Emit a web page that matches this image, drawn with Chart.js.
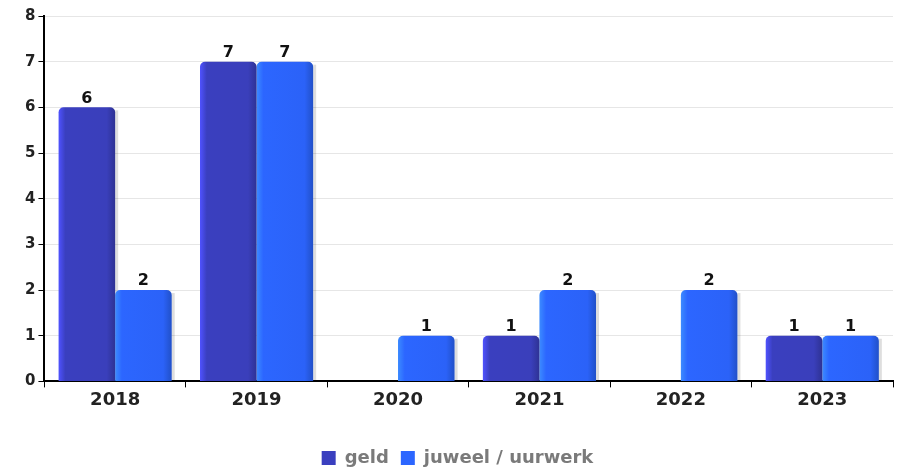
<!DOCTYPE html>
<html><head><meta charset="utf-8">
<script src="https://cdn.jsdelivr.net/npm/chart.js@4/dist/chart.umd.min.js"></script>
<style>html,body{margin:0;padding:0;background:#fff}#w{width:901px;height:468px}</style>
</head><body><div id="w"><canvas id="c"></canvas></div>
<script>
const categories = ['2018','2019','2020','2021','2022','2023'];
const geld = [6,7,0,1,0,1];
const juweel = [2,7,1,2,2,1];
const seriesNames = ['geld','juweel / uurwerk'];
const yTicks = [0,1,2,3,4,5,6,7,8];

const shades = [
  ['#4f52ff','#3a3fbf','#3a3fbb','#2e3294'],
  ['#3c8bff','#2c66ff','#2b62f8','#2150c8']
];
const gradPlugin = {
  id:'grad',
  beforeDatasetsDraw(chart){
    const ctx = chart.ctx;
    chart.data.datasets.forEach((ds,di)=>{
      const meta = chart.getDatasetMeta(di);
      meta.data.forEach(bar=>{
        const l = bar.x - bar.width/2, r = bar.x + bar.width/2;
        const g = ctx.createLinearGradient(l,0,r,0);
        const s = shades[di];
        g.addColorStop(0,s[0]); g.addColorStop(0.12,s[1]);
        g.addColorStop(0.85,s[2]); g.addColorStop(1,s[3]);
        bar.options = Object.assign({}, bar.options, {backgroundColor: g});
        if (bar.base - bar.y > 0) {
          ctx.save();
          ctx.fillStyle='rgba(0,0,0,0.13)';
          ctx.fillRect(r, bar.y+3, 3, bar.base - bar.y - 3);
          ctx.restore();
        }
      });
    });
  },
  afterDatasetsDraw(chart){
    const ctx = chart.ctx;
    ctx.save();
    ctx.font = 'bold 16px "DejaVu Sans"';
    ctx.fillStyle = '#111';
    ctx.textAlign = 'center';
    ctx.textBaseline = 'bottom';
    chart.data.datasets.forEach((ds,di)=>{
      const meta = chart.getDatasetMeta(di);
      meta.data.forEach((bar,i)=>{
        const v = ds.data[i];
        if (v > 0) ctx.fillText(String(v), bar.x, bar.y - 1);
      });
    });
    ctx.restore();
  }
};

new Chart(document.getElementById('c'), {
  type:'bar',
  data:{
    labels:categories,
    datasets:[
      {label:seriesNames[0], data:geld, backgroundColor:(c)=>shades[0][1], borderRadius:{topLeft:5,topRight:5}, borderSkipped:'bottom', categoryPercentage:0.8, barPercentage:1.0},
      {label:seriesNames[1], data:juweel, backgroundColor:(c)=>shades[1][1], borderRadius:{topLeft:5,topRight:5}, borderSkipped:'bottom', categoryPercentage:0.8, barPercentage:1.0}
    ]
  },
  options:{
    responsive:true, maintainAspectRatio:false, animation:false,
    layout:{padding:{left:22,right:8,top:16,bottom:-9}},
    plugins:{
      legend:{position:'bottom', labels:{boxWidth:14, boxHeight:14, padding:12, color:'#7a7a7a', font:{family:'DejaVu Sans', size:18, weight:'bold'},
        generateLabels(chart){ return chart.data.datasets.map((d,i)=>({text:d.label, fillStyle:shades[i][1], strokeStyle:shades[i][1], fontColor:'#7a7a7a', lineWidth:0, datasetIndex:i})); }}},
      tooltip:{enabled:false}
    },
    scales:{
      x:{
        afterFit(s){ s.height += 24; },
        grid:{display:true, drawOnChartArea:false, offset:true, tickLength:6, tickColor:'#000', color:'#000'},
        border:{color:'#000', width:2},
        ticks:{color:'#222', padding:2, font:{family:'DejaVu Sans', size:18, weight:'bold'}}
      },
      y:{
        min:0, max:8,
        afterBuildTicks(ax){ ax.ticks = yTicks.map(v=>({value:v})); },
        grid:{color:'#e6e6e6', tickLength:6, tickColor:'#000'},
        border:{color:'#000', width:2},
        ticks:{color:'#222', padding:3, font:{family:'DejaVu Sans', size:15, weight:'bold'}}
      }
    }
  },
  plugins:[gradPlugin]
});
</script></body></html>
